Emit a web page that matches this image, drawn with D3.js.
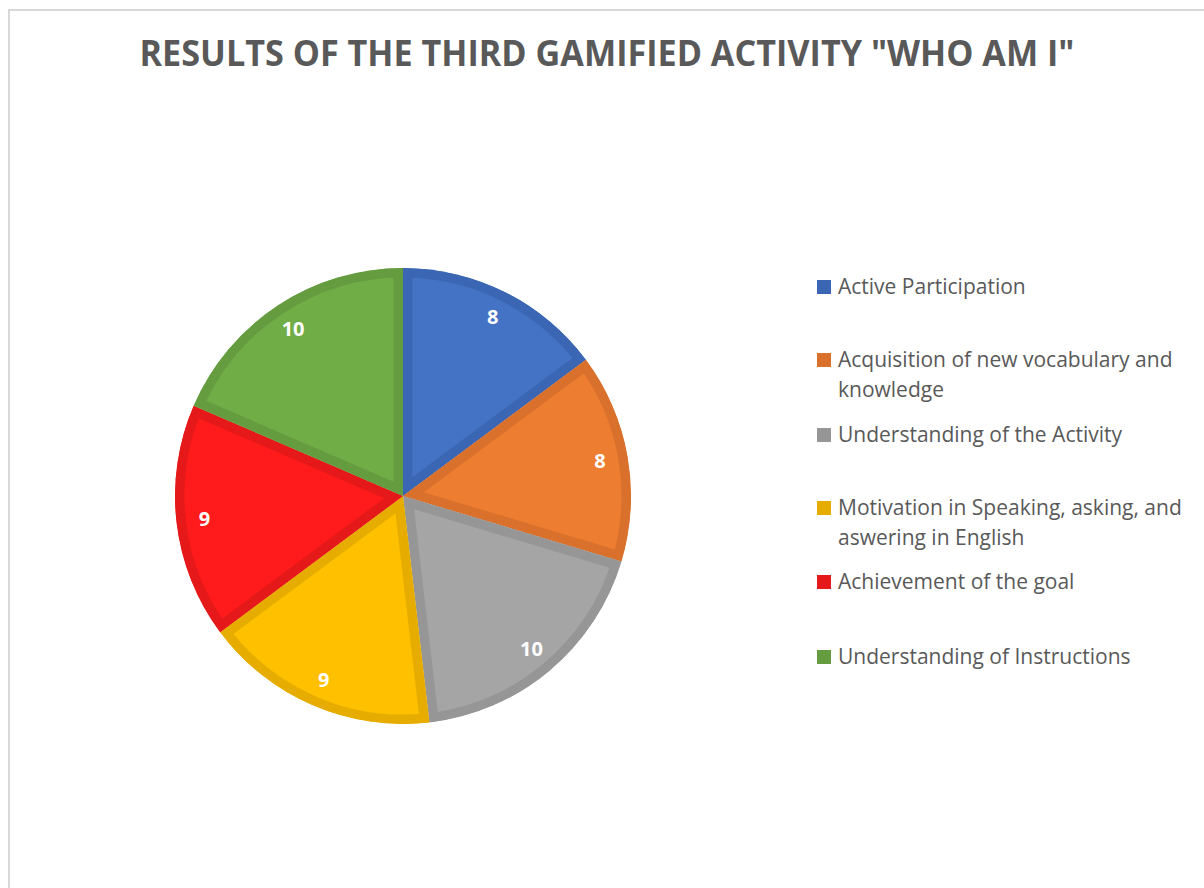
<!DOCTYPE html>
<html><head><meta charset="utf-8">
<script src="https://cdn.jsdelivr.net/npm/d3@7"></script>
<style>html,body{margin:0;padding:0;background:#fff;}svg{display:block;}</style>
</head><body>
<script>
const categories = ["Active Participation","Acquisition of new vocabulary and knowledge","Understanding of the Activity","Motivation in Speaking, asking, and aswering in English","Achievement of the goal","Understanding of Instructions"];
const legendLines = [["Active Participation"],["Acquisition of new vocabulary and","knowledge"],["Understanding of the Activity"],["Motivation in Speaking, asking, and","aswering in English"],["Achievement of the goal"],["Understanding of Instructions"]];
const values = [8,8,10,9,9,10];
const fills = ["#4472C4","#ED7D31","#A5A5A5","#FFC000","#FF1B1B","#70AD47"];
const strokes = ["#3B66B3","#D9702B","#969696","#E6AD00","#E51919","#649C3F"];
const title = "RESULTS OF THE THIRD GAMIFIED ACTIVITY \"WHO AM I\"";

const W=1204,H=888;
const svg=d3.select("body").append("svg").attr("width",W).attr("height",H);
svg.append("rect").attr("width",W).attr("height",H).attr("fill","#fff");
svg.append("path").attr("d",`M9,${H} V10 H${W}`).attr("fill","none").attr("stroke","#d9d9d9").attr("stroke-width",2);

svg.append("text").attr("x",607).attr("y",66).attr("text-anchor","middle")
  .attr("font-family","'Open Sans',sans-serif").attr("font-weight","bold").attr("font-size",35)
  .attr("fill","#595959").attr("textLength",935).attr("lengthAdjust","spacingAndGlyphs").text(title);

const cx=403, cy=496, R=228;
const pie=d3.pie().sort(null).value(d=>d);
const arcs=pie(values);
const arc=d3.arc().innerRadius(0).outerRadius(R);
const labelArc=d3.arc().innerRadius(200).outerRadius(200);
const g=svg.append("g").attr("transform",`translate(${cx},${cy})`);
const defs=svg.append("defs");
arcs.forEach((a,i)=>{
  defs.append("clipPath").attr("id","c"+i).append("path").attr("d",arc(a));
  g.append("path").attr("d",arc(a)).attr("fill",fills[i]).attr("stroke",strokes[i])
   .attr("stroke-width",19).attr("stroke-linejoin","miter").attr("clip-path",`url(#c${i})`);
});
arcs.forEach((a,i)=>{
  const [x,y]=labelArc.centroid(a);
  g.append("text").attr("x",x).attr("y",y).attr("dy","0.35em").attr("text-anchor","middle")
   .attr("font-family","'Open Sans',sans-serif").attr("font-weight","bold").attr("font-size",20)
   .attr("fill","#fff").text(values[i]);
});

const legendY=[287,360,435,508,582,657];
const lg=svg.append("g");
legendLines.forEach((lines,i)=>{
  lg.append("rect").attr("x",817).attr("y",legendY[i]-7).attr("width",14).attr("height",14).attr("fill",strokes[i]);
  lines.forEach((t,j)=>{
    lg.append("text").attr("x",838).attr("y",legendY[i]+j*30).attr("dy","0.35em")
      .attr("font-family","'Open Sans',sans-serif").attr("font-size",21).attr("fill","#595959").text(t);
  });
});
</script>
</body></html>
